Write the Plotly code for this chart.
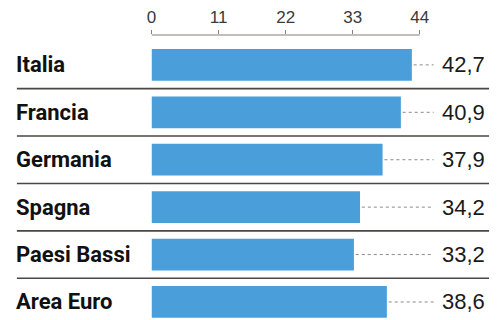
import plotly.graph_objects as go

countries = ["Italia", "Francia", "Germania", "Spagna", "Paesi Bassi", "Area Euro"]
values = [42.7, 40.9, 37.9, 34.2, 33.2, 38.6]
tick_vals = [0, 11, 22, 33, 44]
value_labels = [f"{v:.1f}".replace(".", ",") for v in values]

W, H = 497, 320
X0_PX, PX_PER_UNIT = 148, 271 / 44
x_max = (W - X0_PX) / PX_PER_UNIT
leader_end = (433 - X0_PX) / PX_PER_UNIT
label_x = (439 - X0_PX) / PX_PER_UNIT

rows = list(range(len(countries)))

fig = go.Figure()
fig.add_trace(go.Bar(
    x=values, y=rows, orientation="h", width=0.67,
    marker=dict(color="#4a9fda", line=dict(width=0)),
    hoverinfo="skip", showlegend=False,
))
for i, v in enumerate(values):
    fig.add_trace(go.Scatter(
        x=[v + 0.3, leader_end], y=[i, i], mode="lines",
        line=dict(color="#8a8a8a", width=1, dash="dot"),
        hoverinfo="skip", showlegend=False,
    ))
    fig.add_annotation(x=label_x, y=i, xref="x", yref="y", text=value_labels[i],
                       showarrow=False, xanchor="left", yanchor="middle",
                       font=dict(family="Liberation Sans", size=22, color="#1a1a1a"))
    fig.add_annotation(x=9 / W, y=i, xref="paper", yref="y", text=countries[i],
                       showarrow=False, xanchor="left", yanchor="middle",
                       font=dict(family="Roboto", size=22, color="#111111", weight="bold"))

for i in range(len(countries) - 1):
    fig.add_shape(type="line", xref="paper", yref="y", x0=12 / W, x1=489 / W,
                  y0=i + 0.5, y1=i + 0.5, line=dict(color="#4a4643", width=1.6))

# axis line drawn only from 0 to 44
fig.add_shape(type="line", xref="x", yref="paper", x0=0, x1=tick_vals[-1],
              y0=1 - 35 / H, y1=1 - 35 / H, line=dict(color="#8a7f72", width=1.2))

fig.update_layout(
    width=W, height=H, margin=dict(l=0, r=0, t=0, b=0),
    paper_bgcolor="white", plot_bgcolor="white",
    xaxis=dict(domain=[X0_PX / W, 1], range=[0, x_max], side="top",
               tickvals=tick_vals, ticktext=[str(t) for t in tick_vals],
               ticks="outside", ticklen=4, tickcolor="#8a7f72", tickwidth=1,
               showgrid=False, zeroline=False, showline=False,
               tickfont=dict(family="Liberation Sans", size=17, color="#3a3a3a")),
    yaxis=dict(domain=[0, 1 - 35 / H], range=[5.38, -0.63], visible=False,
               showgrid=False, zeroline=False),
)

fig.write_html("out.html")
